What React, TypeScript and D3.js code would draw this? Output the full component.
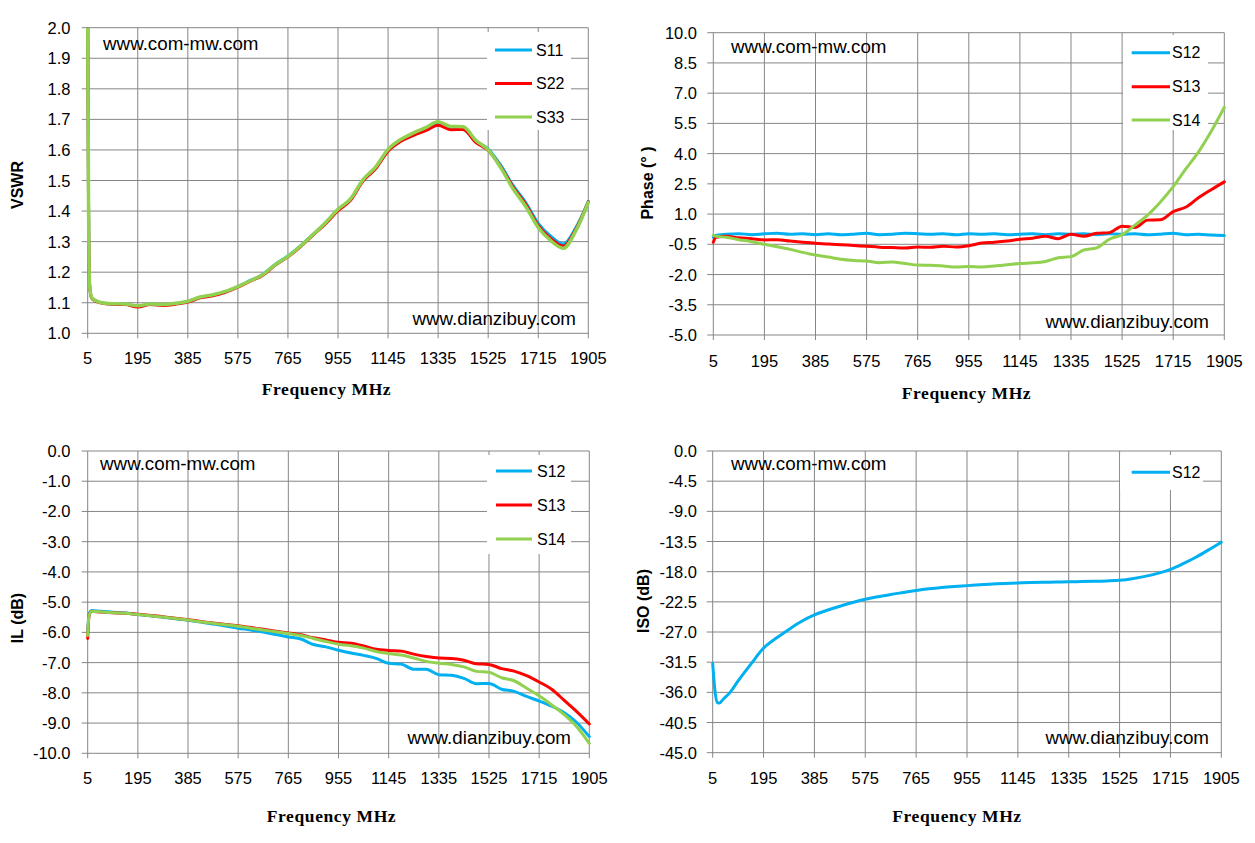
import React from "react";
import * as d3 from "d3";

// ---------- shared ticks ----------
const xTicks = [5, 195, 385, 575, 765, 955, 1145, 1335, 1525, 1715, 1905];
const vswrTicks = [1.0, 1.1, 1.2, 1.3, 1.4, 1.5, 1.6, 1.7, 1.8, 1.9, 2.0];
const phaseTicks = [-5.0, -3.5, -2.0, -0.5, 1.0, 2.5, 4.0, 5.5, 7.0, 8.5, 10.0];
const ilTicks = [-10, -9, -8, -7, -6, -5, -4, -3, -2, -1, 0];
const isoTicks = [-45, -40.5, -36, -31.5, -27, -22.5, -18, -13.5, -9, -4.5, 0];

// ---------- VSWR ----------
const vswrFreq = [5, 8, 12, 20, 35, 52.5, 100, 147.5, 195, 242.5, 290, 337.5, 385, 432.5, 480, 527.5, 575, 622.5, 670, 717.5, 765, 812.5, 860, 907.5, 955, 1002.5, 1050, 1097.5, 1145, 1192.5, 1240, 1287.5, 1335, 1382.5, 1430, 1477.5, 1525, 1572.5, 1620, 1667.5, 1715, 1762.5, 1810, 1857.5, 1905];
const vswrS11 = [2.05, 1.45, 1.16, 1.116, 1.106, 1.101, 1.096, 1.095, 1.089, 1.095, 1.093, 1.097, 1.104, 1.118, 1.125, 1.136, 1.153, 1.173, 1.193, 1.226, 1.253, 1.286, 1.324, 1.361, 1.404, 1.438, 1.501, 1.541, 1.598, 1.63, 1.65, 1.666, 1.684, 1.669, 1.667, 1.628, 1.603, 1.55, 1.483, 1.428, 1.36, 1.318, 1.292, 1.345, 1.432];
const vswrS22 = [2.05, 1.45, 1.16, 1.115, 1.105, 1.1, 1.095, 1.094, 1.086, 1.094, 1.091, 1.095, 1.102, 1.116, 1.123, 1.134, 1.151, 1.171, 1.19, 1.223, 1.25, 1.283, 1.321, 1.358, 1.401, 1.435, 1.498, 1.538, 1.596, 1.628, 1.647, 1.663, 1.681, 1.666, 1.667, 1.625, 1.598, 1.545, 1.478, 1.422, 1.352, 1.31, 1.285, 1.34, 1.43];
const vswrS33 = [2.05, 1.45, 1.16, 1.117, 1.107, 1.101, 1.097, 1.096, 1.09, 1.096, 1.094, 1.098, 1.105, 1.119, 1.126, 1.137, 1.153, 1.172, 1.192, 1.225, 1.252, 1.285, 1.323, 1.362, 1.406, 1.44, 1.503, 1.544, 1.602, 1.634, 1.655, 1.673, 1.692, 1.677, 1.676, 1.632, 1.6, 1.542, 1.472, 1.415, 1.346, 1.303, 1.278, 1.335, 1.428];

// ---------- Phase ----------
const phaseFreq = [5, 15, 52.5, 100, 147.5, 195, 242.5, 290, 337.5, 385, 432.5, 480, 527.5, 575, 622.5, 670, 717.5, 765, 812.5, 860, 907.5, 955, 1002.5, 1050, 1097.5, 1145, 1192.5, 1240, 1287.5, 1335, 1382.5, 1430, 1477.5, 1525, 1572.5, 1620, 1667.5, 1715, 1762.5, 1810, 1857.5, 1905];
const phaseS12 = [-0.15, -0.05, 0.0, 0.03, -0.02, 0.02, 0.05, 0.0, 0.02, -0.02, 0.02, -0.03, 0.0, 0.05, -0.02, 0.0, 0.05, 0.03, 0.0, 0.02, -0.03, 0.03, 0.0, 0.02, -0.02, 0.0, 0.02, -0.02, 0.02, 0.0, 0.03, -0.02, 0.02, 0.0, 0.02, -0.03, 0.0, 0.05, -0.02, 0.0, -0.04, -0.06];
const phaseS13 = [-0.4, -0.15, -0.1, -0.18, -0.22, -0.28, -0.27, -0.34, -0.4, -0.45, -0.48, -0.52, -0.56, -0.6, -0.64, -0.66, -0.68, -0.63, -0.65, -0.6, -0.63, -0.57, -0.44, -0.4, -0.34, -0.25, -0.2, -0.1, -0.22, 0.0, -0.1, 0.05, 0.08, 0.4, 0.34, 0.7, 0.72, 1.12, 1.35, 1.82, 2.22, 2.6];
const phaseS14 = [-0.05, -0.1, -0.15, -0.27, -0.37, -0.5, -0.62, -0.75, -0.9, -1.03, -1.13, -1.24, -1.3, -1.33, -1.41, -1.38, -1.45, -1.53, -1.54, -1.58, -1.63, -1.6, -1.62, -1.58, -1.52, -1.45, -1.42, -1.35, -1.17, -1.11, -0.78, -0.68, -0.25, -0.02, 0.45, 0.95, 1.6, 2.36, 3.25, 4.1, 5.13, 6.3];

// ---------- IL ----------
const ilFreq = [5, 10, 20, 52.5, 100, 147.5, 195, 242.5, 290, 337.5, 385, 432.5, 480, 527.5, 575, 622.5, 670, 717.5, 765, 812.5, 860, 907.5, 955, 1002.5, 1050, 1097.5, 1145, 1192.5, 1240, 1287.5, 1335, 1382.5, 1430, 1477.5, 1525, 1572.5, 1620, 1667.5, 1715, 1762.5, 1810, 1857.5, 1905];
const ilS12 = [-6.0, -5.4, -5.28, -5.3, -5.33, -5.36, -5.41, -5.45, -5.5, -5.55, -5.6, -5.66, -5.72, -5.79, -5.86, -5.92, -5.99, -6.07, -6.15, -6.22, -6.4, -6.48, -6.59, -6.68, -6.76, -6.86, -7.02, -7.05, -7.22, -7.22, -7.4, -7.42, -7.52, -7.7, -7.69, -7.88, -7.95, -8.12, -8.27, -8.44, -8.66, -8.98, -9.45];
const ilS13 = [-6.2, -5.45, -5.3, -5.33, -5.35, -5.37, -5.4, -5.44, -5.48, -5.53, -5.58, -5.64, -5.69, -5.74, -5.78, -5.84, -5.9, -5.96, -6.02, -6.08, -6.18, -6.25, -6.33, -6.36, -6.45, -6.56, -6.6, -6.62, -6.72, -6.8, -6.85, -6.86, -6.92, -7.04, -7.06, -7.2, -7.28, -7.43, -7.64, -7.88, -8.25, -8.62, -9.03];
const ilS14 = [-6.1, -5.45, -5.3, -5.32, -5.35, -5.37, -5.41, -5.45, -5.49, -5.54, -5.59, -5.65, -5.7, -5.75, -5.8, -5.86, -5.92, -5.98, -6.04, -6.1, -6.2, -6.3, -6.39, -6.44, -6.52, -6.63, -6.7, -6.75, -6.85, -6.96, -7.02, -7.06, -7.14, -7.29, -7.32, -7.5, -7.6, -7.85, -8.1, -8.4, -8.72, -9.12, -9.67];

// ---------- ISO ----------
const isoFreq = [5, 13, 22, 30, 45, 70, 100, 147.5, 195, 242.5, 290, 337.5, 385, 432.5, 480, 527.5, 575, 622.5, 670, 717.5, 765, 812.5, 860, 907.5, 955, 1002.5, 1050, 1097.5, 1145, 1192.5, 1240, 1287.5, 1335, 1382.5, 1430, 1477.5, 1525, 1572.5, 1620, 1667.5, 1715, 1762.5, 1810, 1857.5, 1905];
const isoS12 = [-31.7, -35.6, -37.5, -37.6, -37.0, -36.0, -34.3, -31.8, -29.4, -27.9, -26.6, -25.4, -24.45, -23.75, -23.15, -22.6, -22.1, -21.75, -21.4, -21.1, -20.8, -20.55, -20.35, -20.2, -20.08, -19.95, -19.85, -19.75, -19.68, -19.62, -19.58, -19.54, -19.52, -19.48, -19.44, -19.38, -19.28, -19.05, -18.7, -18.25, -17.65, -16.8, -15.85, -14.75, -13.6];

const BLUE = "#00B0F0";
const RED = "#FF0000";
const GREEN = "#92D050";
const GRID = "#868686";
const SANS = "'Liberation Sans', Arial, sans-serif";
const SERIF = "'Liberation Serif', 'Times New Roman', serif";

type Series = { name: string; color: string; freqs: number[]; values: number[]; width: number };
type PanelCfg = {
  id: string;
  x0: number; x1: number; yTop: number; yBot: number;
  yDomain: [number, number];
  yTicks: number[];
  yTitle: string; yTitleX: number; yTitleY: number;
  xTitleX: number; xTitleY: number;
  xTickLabelY: number; yTickLabelX: number;
  series: Series[];
  legend: { bx: number; by: number; bw: number; bh: number; l0: number; l1: number; tx: number; rows: number[] };
  site1: { x: number; y: number };
  site2: { x: number; y: number };
};

function Panel({ c }: { c: PanelCfg }) {
  const x = d3.scaleLinear().domain([5, 1905]).range([c.x0, c.x1]);
  const y = d3.scaleLinear().domain(c.yDomain).range([c.yBot, c.yTop]);
  const line = d3
    .line<[number, number]>()
    .x((d) => x(d[0]))
    .y((d) => y(d[1]))
    .curve(d3.curveMonotoneX);
  return (
    <g>
      <defs>
        <clipPath id={`clip-${c.id}`}>
          <rect x={c.x0 - 2} y={c.yTop} width={c.x1 - c.x0 + 4} height={c.yBot - c.yTop} />
        </clipPath>
      </defs>
      {c.yTicks.map((t) => (
        <line key={`h${t}`} x1={c.x0 - 6} x2={c.x1} y1={y(t)} y2={y(t)} stroke={GRID} strokeWidth={1} />
      ))}
      {xTicks.map((t) => (
        <line key={`v${t}`} x1={x(t)} x2={x(t)} y1={c.yTop} y2={c.yBot + 5} stroke={GRID} strokeWidth={1} />
      ))}
      {c.yTicks.map((t) => (
        <text key={`yl${t}`} x={c.yTickLabelX} y={y(t)} textAnchor="end" dominantBaseline="central"
          fontFamily={SANS} fontSize={16.5} fill="#000">
          {t.toFixed(1)}
        </text>
      ))}
      {xTicks.map((t) => (
        <text key={`xl${t}`} x={x(t)} y={c.xTickLabelY} textAnchor="middle" dominantBaseline="central"
          fontFamily={SANS} fontSize={16.5} fill="#000">
          {t}
        </text>
      ))}
      <g clipPath={`url(#clip-${c.id})`}>
        {c.series.map((s) => (
          <path key={s.name}
            d={line(s.freqs.map((f, i) => [f, s.values[i]] as [number, number])) || ""}
            fill="none" stroke={s.color} strokeWidth={s.width} strokeLinejoin="round" strokeLinecap="round" />
        ))}
      </g>
      <rect x={c.legend.bx} y={c.legend.by} width={c.legend.bw} height={c.legend.bh} fill="#fff" />
      {c.series.map((s, i) => (
        <g key={`lg${s.name}`}>
          <line x1={c.legend.l0} x2={c.legend.l1} y1={c.legend.rows[i]} y2={c.legend.rows[i]} stroke={s.color} strokeWidth={3} />
          <text x={c.legend.tx} y={c.legend.rows[i]} dominantBaseline="central" fontFamily={SANS} fontSize={16} fill="#000">
            {s.name}
          </text>
        </g>
      ))}
      <text x={c.site1.x} y={c.site1.y} dominantBaseline="central" fontFamily={SANS} fontSize={18.8} fill="#000">
        www.com-mw.com
      </text>
      <text x={c.site2.x} y={c.site2.y} textAnchor="end" dominantBaseline="central" fontFamily={SANS} fontSize={18.8} fill="#000">
        www.dianzibuy.com
      </text>
      <text transform={`translate(${c.yTitleX},${c.yTitleY}) rotate(-90)`} textAnchor="middle" dominantBaseline="central"
        fontFamily={SANS} fontWeight="bold" fontSize={16} fill="#000">
        {c.yTitle}
      </text>
      <text x={c.xTitleX} y={c.xTitleY} textAnchor="middle" dominantBaseline="central"
        fontFamily={SERIF} fontWeight="bold" fontSize={17.5} letterSpacing={0.6} fill="#000">
        Frequency MHz
      </text>
    </g>
  );
}

const panels: PanelCfg[] = [
  {
    id: "vswr", x0: 87.7, x1: 588.3, yTop: 27.7, yBot: 333.3, yDomain: [1.0, 2.0], yTicks: vswrTicks,
    yTitle: "VSWR", yTitleX: 17, yTitleY: 185, xTitleX: 326.5, xTitleY: 389, xTickLabelY: 357.5, yTickLabelX: 70.5,
    series: [
      { name: "S11", color: BLUE, freqs: vswrFreq, values: vswrS11, width: 3 },
      { name: "S22", color: RED, freqs: vswrFreq, values: vswrS22, width: 3 },
      { name: "S33", color: GREEN, freqs: vswrFreq, values: vswrS33, width: 3.5 },
    ],
    legend: { bx: 487, by: 32, bw: 84, bh: 98, l0: 495, l1: 532, tx: 536, rows: [50, 83.5, 117] },
    site1: { x: 103, y: 43 }, site2: { x: 576, y: 318 },
  },
  {
    id: "phase", x0: 713.3, x1: 1224.3, yTop: 32.7, yBot: 335, yDomain: [-5, 10], yTicks: phaseTicks,
    yTitle: "Phase (° )", yTitleX: 647, yTitleY: 183, xTitleX: 966.5, xTitleY: 393, xTickLabelY: 361, yTickLabelX: 697,
    series: [
      { name: "S12", color: BLUE, freqs: phaseFreq, values: phaseS12, width: 3 },
      { name: "S13", color: RED, freqs: phaseFreq, values: phaseS13, width: 3 },
      { name: "S14", color: GREEN, freqs: phaseFreq, values: phaseS14, width: 3 },
    ],
    legend: { bx: 1123, by: 35, bw: 85, bh: 95, l0: 1131.7, l1: 1170, tx: 1172, rows: [52.7, 86.7, 120] },
    site1: { x: 731, y: 46.7 }, site2: { x: 1209, y: 321.7 },
  },
  {
    id: "il", x0: 87.7, x1: 589.3, yTop: 451, yBot: 753.3, yDomain: [-10, 0], yTicks: ilTicks,
    yTitle: "IL (dB)", yTitleX: 17, yTitleY: 618, xTitleX: 331.5, xTitleY: 816, xTickLabelY: 777.5, yTickLabelX: 70.5,
    series: [
      { name: "S12", color: BLUE, freqs: ilFreq, values: ilS12, width: 3 },
      { name: "S13", color: RED, freqs: ilFreq, values: ilS13, width: 3 },
      { name: "S14", color: GREEN, freqs: ilFreq, values: ilS14, width: 3 },
    ],
    legend: { bx: 487, by: 455, bw: 84, bh: 99, l0: 496, l1: 532, tx: 537, rows: [471, 505, 539] },
    site1: { x: 100, y: 463.3 }, site2: { x: 571, y: 737.7 },
  },
  {
    id: "iso", x0: 712.7, x1: 1221.3, yTop: 451, yBot: 752.7, yDomain: [-45, 0], yTicks: isoTicks,
    yTitle: "ISO (dB)", yTitleX: 643, yTitleY: 601, xTitleX: 957, xTitleY: 816, xTickLabelY: 777.5, yTickLabelX: 697,
    series: [{ name: "S12", color: BLUE, freqs: isoFreq, values: isoS12, width: 3 }],
    legend: { bx: 1120, by: 455, bw: 83, bh: 35, l0: 1131.7, l1: 1170, tx: 1172, rows: [472.3] },
    site1: { x: 731, y: 463.3 }, site2: { x: 1209, y: 737 },
  },
];

export default function App() {
  return (
    <svg width={1255} height={843} viewBox="0 0 1255 843"
      style={{ position: "fixed", left: 0, top: 0, background: "#fff" }}>
      <rect x={0} y={0} width={1255} height={843} fill="#fff" />
      {panels.map((p) => (
        <Panel key={p.id} c={p} />
      ))}
    </svg>
  );
}
